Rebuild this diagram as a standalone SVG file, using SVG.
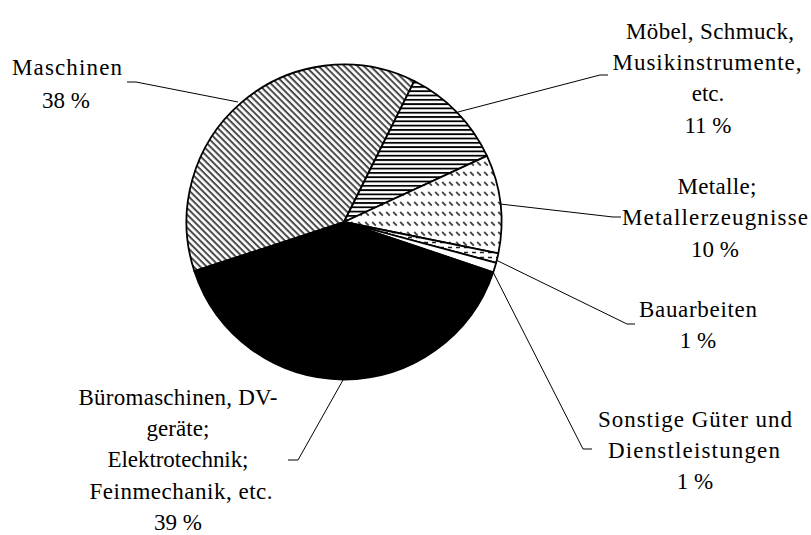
<svg xmlns="http://www.w3.org/2000/svg" width="811" height="535" viewBox="0 0 811 535">
<style>
text{font-family:"Liberation Serif","Times New Roman",Times,serif;font-size:23px;fill:#000;text-anchor:middle}
.slice{stroke:#000;stroke-width:1.8;stroke-linejoin:round}
.lead{fill:none;stroke:#000;stroke-width:1}
</style>
<defs>
<pattern id="pDiag" width="4.6" height="4.6" patternUnits="userSpaceOnUse" patternTransform="rotate(45)">
<rect width="4.6" height="4.6" fill="#fff"/>
<rect y="0" width="4.6" height="2" fill="#4a4a4a"/>
</pattern>
<pattern id="pHor" width="8" height="4.3" patternUnits="userSpaceOnUse">
<rect width="8" height="4.3" fill="#fff"/>
<rect y="0" width="8" height="1.8" fill="#000"/>
</pattern>
<pattern id="pDash" width="7" height="10" patternUnits="userSpaceOnUse">
<rect width="7" height="10" fill="#fff"/>
<path d="M1.2,2 L4.8,5.6" stroke="#444" stroke-width="1.8"/>
</pattern>
<pattern id="pBau" width="8" height="5" patternUnits="userSpaceOnUse">
<rect width="8" height="5" fill="#fff"/>
<path d="M0,2.5 L4,2.5" stroke="#222" stroke-width="1.5"/>
</pattern>
</defs>

<g id="connectors">
<polyline class="lead" points="238,102 136,82 127,82"/>
<polyline class="lead" points="458,112 600,75 608,75"/>
<polyline class="lead" points="500,204 613,217 621,217"/>
<polyline class="lead" points="496,260 627,324 635,324"/>
<polyline class="lead" points="492,270 583,449 592,449"/>
<polyline class="lead" points="343,380 298,460 288,460"/>
</g>

<g id="maschinen">
<path class="slice" fill="url(#pDiag)" d="M344,222 L194.38,271.19 A157.5,157.5 0 0 1 414.28,81.05 Z"/>
<text x="67" y="75" textLength="110" lengthAdjust="spacing">Maschinen</text>
<text x="66" y="108">38 %</text>
</g>

<g id="moebel">
<path class="slice" fill="url(#pHor)" d="M344,222 L414.28,81.05 A157.5,157.5 0 0 1 486.98,155.94 Z"/>
<text x="710" y="39" textLength="168" lengthAdjust="spacing">Möbel, Schmuck,</text>
<text x="707" y="70" textLength="189" lengthAdjust="spacing">Musikinstrumente,</text>
<text x="708" y="101">etc.</text>
<text x="708" y="133">11 %</text>
</g>

<g id="metalle">
<path class="slice" fill="url(#pDash)" d="M344,222 L486.98,155.94 A157.5,157.5 0 0 1 498.34,253.40 Z"/>
<text x="717" y="194" textLength="79" lengthAdjust="spacing">Metalle;</text>
<text x="715" y="225" textLength="186" lengthAdjust="spacing">Metallerzeugnisse</text>
<text x="715" y="257">10 %</text>
</g>

<g id="bauarbeiten">
<path class="slice" fill="url(#pBau)" d="M344,222 L498.34,253.40 A157.5,157.5 0 0 1 496.13,262.76 Z"/>
<text x="698" y="317" textLength="118" lengthAdjust="spacing">Bauarbeiten</text>
<text x="698" y="348">1 %</text>
</g>

<g id="sonstige">
<path class="slice" fill="#fff" d="M344,222 L496.13,262.76 A157.5,157.5 0 0 1 493.27,272.24 Z"/>
<text x="695" y="427" textLength="194" lengthAdjust="spacing">Sonstige Güter und</text>
<text x="694" y="458" textLength="172" lengthAdjust="spacing">Dienstleistungen</text>
<text x="695" y="489">1 %</text>
</g>

<g id="bueromaschinen">
<path class="slice" fill="#000" d="M344,222 L493.27,272.24 A157.5,157.5 0 0 1 194.38,271.19 Z"/>
<text x="178" y="405" textLength="199" lengthAdjust="spacing">Büromaschinen, DV-</text>
<text x="178" y="436" textLength="63" lengthAdjust="spacing">geräte;</text>
<text x="178" y="467" textLength="141" lengthAdjust="spacing">Elektrotechnik;</text>
<text x="181" y="499" textLength="183" lengthAdjust="spacing">Feinmechanik, etc.</text>
<text x="178" y="530">39 %</text>
</g>
</svg>
